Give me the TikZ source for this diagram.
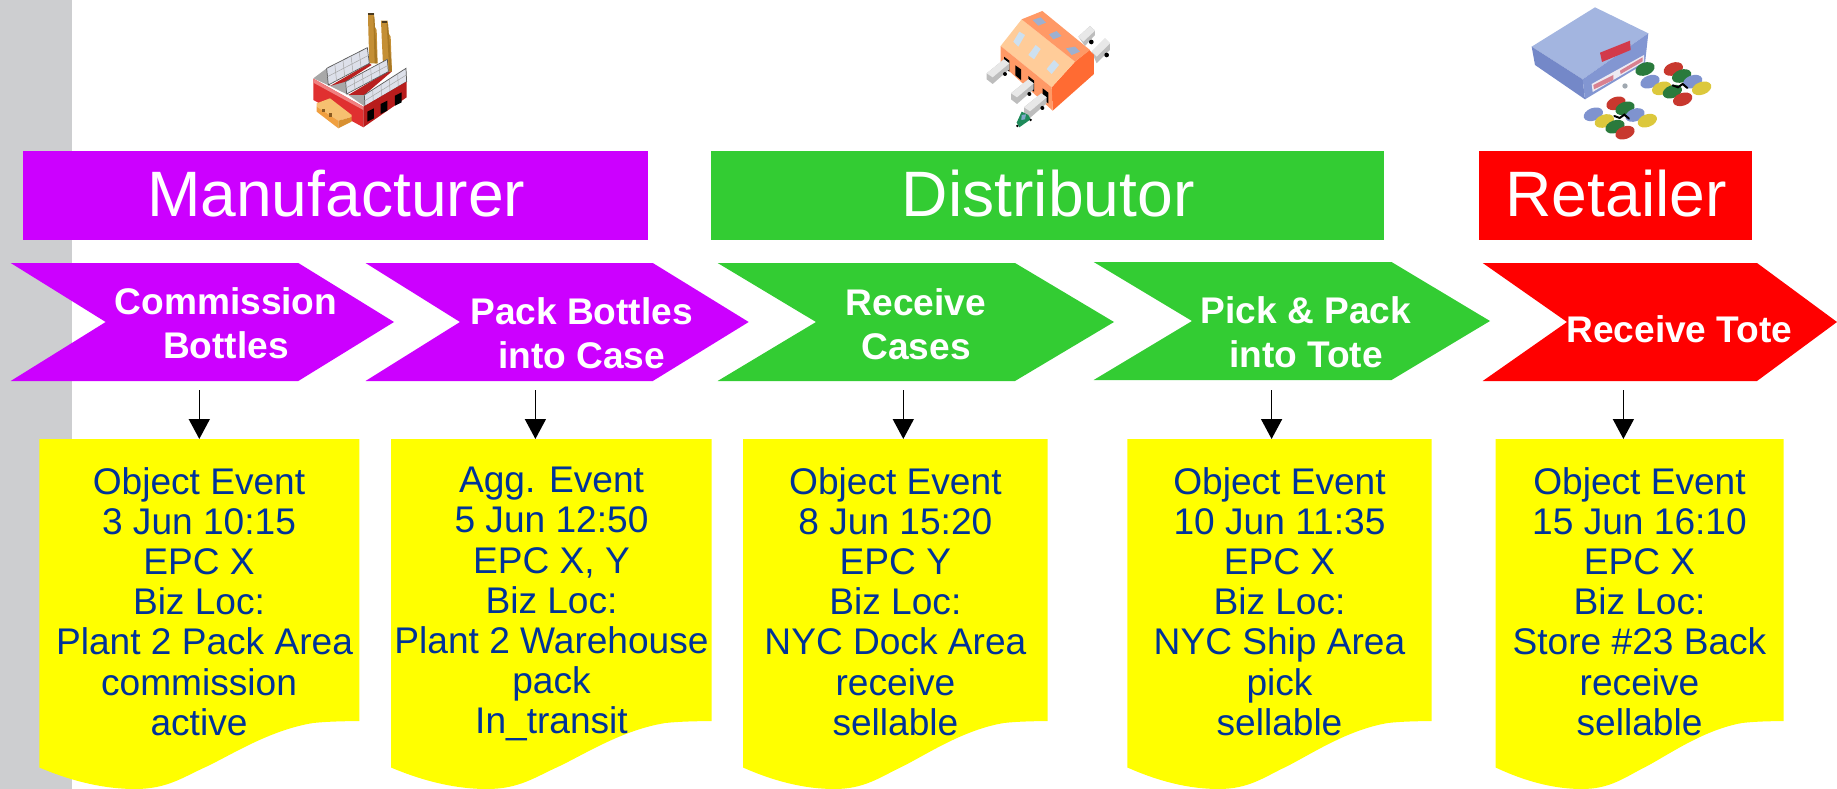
\documentclass[tikz,border=0pt]{standalone}
\usepackage{fontspec}
\setmainfont{Liberation Sans}
\usetikzlibrary{arrows.meta}
\definecolor{sidegray}{HTML}{CDCED0}
\definecolor{mpurple}{HTML}{CC00FF}
\definecolor{dgreen}{HTML}{33CC33}
\definecolor{rred}{HTML}{FF0000}
\definecolor{evblue}{HTML}{003399}
\definecolor{evyellow}{HTML}{FFFF00}
\tikzset{
  banner/.style={anchor=north west,inner sep=0pt,text=white,font=\fontsize{64.2}{64}\selectfont,text height=46pt,text depth=4pt,align=center},
  chevtext/.style={anchor=north,inner sep=0pt,text=white,align=center,font=\fontsize{37.1}{44}\selectfont\bfseries},
  evtext/.style={anchor=north,inner sep=0pt,text=evblue,align=center,font=\fontsize{37.1}{40.2}\selectfont},
  flowarrow/.style={draw=black,line width=1.6pt,-{Triangle[width=21pt,length=20pt]},shorten >=0pt},
  hx/.code={\definecolor{tmphx}{HTML}{#1}\tikzset{fill=tmphx}}
}
\begin{document}
\begin{tikzpicture}[x=1pt,y=-1pt]
\useasboundingbox (0,0) rectangle (1837,789);
\fill[sidegray] (0,0) rectangle (71.7,789);

% event sheets
\foreach \n/\a/\w in {1/39.3/320,2/391/320.5,3/743/304.7,4/1127.4/304.2,5/1495.6/287.9}{
  \fill[evyellow] (\a,439) -- ({\a+\w},439) -- ({\a+\w},721)
    .. controls ({\a+0.95*\w},721.2) and ({\a+0.9*\w},721.5) .. ({\a+0.856*\w},723)
    .. controls ({\a+0.72*\w},730) and ({\a+0.6*\w},755) .. ({\a+0.52*\w},767)
    .. controls ({\a+0.45*\w},777) and ({\a+0.4*\w},789) .. ({\a+0.3*\w},789)
    .. controls ({\a+0.2*\w},789) and ({\a+0.1*\w},781) .. (\a,767.5) -- cycle;
}

% banners
\node[banner,fill=mpurple,minimum width=625pt,minimum height=88.7pt] (mfr) at (23,151) {\hspace*{1pt}Manufacturer};
\node[banner,fill=dgreen,minimum width=673pt,minimum height=88.7pt] (dst) at (711,151) {\hspace*{1pt}Distributor};
\node[banner,fill=rred,minimum width=273pt,minimum height=88.7pt] (ret) at (1479,151) {\hspace*{1pt}Retailer};

% chevrons
\fill[mpurple] (10.7,263) -- (298.3,263) -- (394,322) -- (298.3,381) -- (10.7,381) -- (105.7,322) -- cycle;
\fill[mpurple] (365.5,263) -- (652.8,263) -- (748.7,322) -- (652.8,381) -- (365.5,381) -- (460,322) -- cycle;
\fill[dgreen] (717.6,263) -- (1015,263) -- (1114,322) -- (1015,381) -- (717.6,381) -- (816,322) -- cycle;
\fill[dgreen] (1093.7,262) -- (1391.5,262) -- (1490,321) -- (1391.5,380) -- (1093.7,380) -- (1192,321) -- cycle;
\fill[rred] (1482.7,263) -- (1757,263) -- (1837,322) -- (1757,381) -- (1482.7,381) -- (1567,322) -- cycle;

\node[chevtext] (c1) at (226,287.5) {Commission\\Bottles};
\node[chevtext] (c2) at (581.6,297) {Pack Bottles\\into Case};
\node[chevtext] (c3) at (916,288) {Receive\\Cases};
\node[chevtext] (c4) at (1306,296) {Pick \& Pack\\into Tote};
\node[chevtext] (c5) at (1679.4,315) {Receive Tote};

% event texts
\node[evtext] (e1) at (199,467) {Object Event\\3 Jun 10:15\\EPC X\\Biz Loc:\\\hspace*{11pt}Plant 2 Pack Area\\commission\\active};
\node[evtext] (e2) at (551.5,467) {Agg. Event\\5 Jun 12:50\\EPC X, Y\\Biz Loc:\\Plant 2 Warehouse\\pack\\In\_transit};
\node[evtext] (e3) at (895.4,467) {Object Event\\8 Jun 15:20\\EPC Y\\Biz Loc:\\NYC Dock Area\\receive\\sellable};
\node[evtext] (e4) at (1279.5,467) {Object Event\\10 Jun 11:35\\EPC X\\Biz Loc:\\NYC Ship Area\\pick\\sellable};
\node[evtext] (e5) at (1639.5,467) {Object Event\\15 Jun 16:10\\EPC X\\Biz Loc:\\Store \#23 Back\\receive\\sellable};

% connectors
\foreach \n/\x in {1/199.3,2/535.4,3/903.3,4/1271.6,5/1623.4}{
  \coordinate (s\n) at (\x,390);
  \coordinate (t\n) at (\x,439);
  \draw[flowarrow] (s\n) -- (t\n);
}

% factory icon
\begin{scope}[shift={(280,0)},x=0.3333pt,y=-0.3333pt]
  \fill[hx=C48F35] (264,40) -- (282,40) -- (284,80) -- (290,90) -- (293,190) -- (268,190) -- (265,90) -- cycle;
  \fill[hx=C48F35] (303,62) -- (323,62) -- (326,100) -- (332,110) -- (336,215) -- (310,215) -- (305,110) -- cycle;
  \fill[hx=4A3A20] (265,40) rectangle (281,46);
  \fill[hx=4A3A20] (305,63) rectangle (322,69);
  \fill[hx=A87824] (280,50) -- (283,50) -- (292,190) -- (284,190) -- cycle;
  \fill[hx=A87824] (320,72) -- (324,72) -- (336,215) -- (328,215) -- cycle;
  % roofs
  \fill[hx=A8A8A8] (100,235) -- (140,205) -- (150,258) -- cycle;
  \fill[hx=A8A8A8] (150,258) -- (197,238) -- (205,285) -- cycle;
  \fill[hx=A8A8A8] (205,285) -- (253,265) -- (255,320) -- cycle;
  \fill[hx=B82020] (150,258) -- (268,190) -- (275,195) -- (197,245) -- cycle;
  \fill[hx=B82020] (205,285) -- (322,215) -- (335,215) -- (253,285) -- cycle;
  % glass
  \foreach \a/\b/\c/\d/\e/\f/\g/\h in {140/205/262/143/268/190/145/255,197/245/322/178/325/215/200/282,253/285/378/205/380/245/255/320}{
    \fill[hx=DDE0EA] (\a,\b) -- (\c,\d) -- (\e,\f) -- (\g,\h) -- cycle;
    \draw[gray!70!black,line width=0.7pt] (\a,\b) -- (\c,\d) -- (\e,\f) -- (\g,\h) -- cycle;
    \foreach \t in {0.2,0.4,0.6,0.8}{
      \draw[gray!70,line width=0.5pt] ({\a+\t*(\c-\a)},{\b+\t*(\d-\b)}) -- ({\g+\t*(\e-\g)},{\h+\t*(\f-\h)});
    }
    \draw[gray!70,line width=0.5pt] ({(\a+\g)/2},{(\b+\h)/2}) -- ({(\c+\e)/2},{(\d+\f)/2});
  }
  % walls
  \fill[hx=E03030] (100,236) -- (250,320) -- (250,382) -- (100,300) -- cycle;
  \fill[hx=B81C1C] (250,320) -- (380,245) -- (380,292) -- (250,382) -- cycle;
  \fill[hx=F08080] (100,236) -- (250,320) -- (250,330) -- (100,248) -- cycle;
  % windows
  \foreach \a/\b in {262/335,302/312,345/287}{
    \fill[black] (\a,\b) -- ++(20,-10) -- ++(0,30) -- ++(-20,10) -- cycle;
  }
  % annex
  \fill[hx=F6C070] (110,310) -- (150,295) -- (215,345) -- (215,352) -- (175,362) -- (110,320) -- cycle;
  \fill[hx=F0A040] (110,320) -- (175,362) -- (175,385) -- (110,335) -- cycle;
  \fill[hx=D89030] (175,362) -- (215,352) -- (215,365) -- (175,385) -- cycle;
  \fill[hx=8A5A20] (125,328) rectangle (135,336);
  \fill[hx=8A5A20] (148,340) rectangle (156,352);
\end{scope}

% warehouse icon
\begin{scope}[shift={(960,0)},x=0.3333pt,y=-0.3333pt]
  % rear trucks
  \fill[hx=BDBDBD] (355,110) -- (390,78) -- (405,92) -- (405,105) -- (375,138) -- cycle;
  \fill[hx=E8E8E8] (355,110) -- (390,78) -- (405,92) -- (370,125) -- cycle;
  \fill[black] (394,126) circle (7);
  \fill[hx=BDBDBD] (395,155) -- (435,115) -- (450,130) -- (450,150) -- (410,190) -- cycle;
  \fill[hx=E8E8E8] (395,155) -- (435,115) -- (450,130) -- (410,170) -- cycle;
  \fill[black] (440,165) circle (7);
  % building
  \fill[hx=FF6B33] (275,262) -- (345,185) -- (388,150) -- (402,165) -- (402,222) -- (278,332) -- cycle;
  \fill[hx=FFCC99] (122,138) -- (185,58) -- (345,185) -- (275,262) -- cycle;
  \fill[hx=FF9966] (185,58) -- (247,33) -- (390,150) -- (345,185) -- cycle;
  \fill[hx=FF9966] (122,138) -- (275,262) -- (278,332) -- (122,190) -- cycle;
  \fill[black] (132,170) -- (148,182) -- (148,215) -- (132,205) -- cycle;
  \fill[black] (205,228) -- (222,242) -- (222,275) -- (205,262) -- cycle;
  \fill[black] (248,265) -- (265,278) -- (265,310) -- (248,298) -- cycle;
  \fill[black] (166,196) -- (183,208) -- (183,240) -- (166,226) -- cycle;
  % skylights
  \foreach \a/\b/\c/\d/\e/\f/\g/\h in {160/125/178/95/195/105/175/140,205/165/227/135/242/147/222/178,260/207/282/180/297/195/275/222}{
    \fill[hx=CDE0F0] (\a,\b) -- (\c,\d) -- (\e,\f) -- (\g,\h) -- cycle;
  }
  \foreach \a/\b/\c/\d/\e/\f/\g/\h in {218/60/242/52/258/68/235/77,267/103/290/93/305/108/280/118,318/145/345/140/360/155/335/165}{
    \fill[hx=9DB0D0] (\a,\b) -- (\c,\d) -- (\e,\f) -- (\g,\h) -- cycle;
  }
  % front trucks
  \foreach \a/\b in {80/220,153/280,192/322}{
    \fill[hx=BDBDBD] (\a,\b) -- ++(52,-42) -- ++(16,12) -- ++(0,18) -- ++(-50,44) -- ++(-18,-14) -- cycle;
    \fill[hx=E8E8E8] (\a,\b) -- ++(52,-42) -- ++(16,12) -- ++(-50,42) -- cycle;
    \fill[black] ({\a+55},{\b+2}) circle (6);
  }
  % cab
  \fill[hx=1E8A5A] (170,368) -- (185,335) -- (205,345) -- (212,358) -- (178,382) -- cycle;
  \fill[hx=7FA8C8] (185,345) -- (198,343) -- (195,358) -- (184,360) -- cycle;
  \fill[black] (172,378) circle (4);
  \fill[black] (212,360) circle (4);
\end{scope}

% retail icon
\begin{scope}[shift={(1510,0)},x=0.3333pt,y=-0.3333pt]
  \fill[hx=A3B5E0] (65,140) -- (255,22) -- (415,100) -- (218,238) -- cycle;
  \fill[hx=7488C8] (65,140) -- (218,238) -- (225,298) -- (75,195) -- cycle;
  \fill[hx=8296D2] (218,238) -- (415,100) -- (405,190) -- (225,298) -- cycle;
  \fill[hx=D23A4A] (270,158) -- (360,122) -- (362,150) -- (276,186) -- cycle;
  \fill[hx=EDEAF2] (245,252) -- (402,165) -- (402,186) -- (248,276) -- cycle;
  \fill[hx=D88090] (250,255) -- (310,225) -- (310,240) -- (252,268) -- cycle;
  \fill[hx=D88090] (330,212) -- (398,172) -- (398,184) -- (332,222) -- cycle;
  \fill[hx=A0A8B0] (345,258) circle (8);
  \foreach \x/\y/\c in {490/207/C8382E,405/207/2A7A3C,515/228/2A7A3C,420/245/7F93CF,548/245/7F93CF,455/265/DCC83C,575/265/DCC83C,487/275/2A7A3C,518/298/C8382E,318/310/C8382E,345/325/2A7A3C,250/343/7F93CF,375/345/7F93CF,283/363/DCC83C,412/362/DCC83C,315/380/2A7A3C,345/398/C8382E}{
    \fill[hx=\c,rotate around={20:(\x,\y)}] (\x,\y) ellipse (30 and 19);
  }
  \foreach \x/\y in {510/258,335/350}{
    \draw[black,line width=2pt,line cap=round] (\x-22,\y-2) -- (\x-6,\y+4) -- (\x+8,\y-6) -- (\x+22,\y+6);
  }
\end{scope}
\end{tikzpicture}
\end{document}
